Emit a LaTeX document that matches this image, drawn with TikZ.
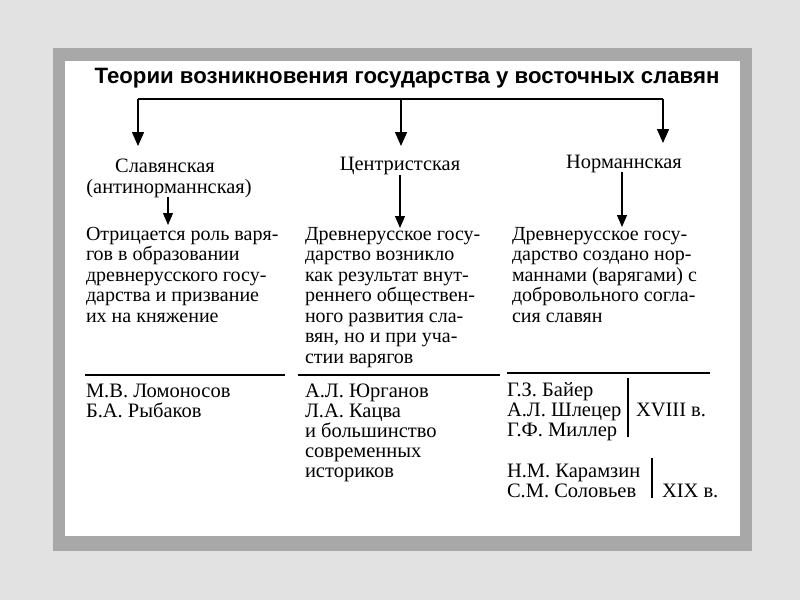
\documentclass[tikz,border=0pt]{standalone}
\usepackage{fontspec}
\setmainfont{Liberation Serif}
\newfontfamily\titlefont{Liberation Sans}
\usetikzlibrary{arrows.meta}
\definecolor{bgout}{RGB}{226,226,226}
\definecolor{frame}{RGB}{168,168,168}
\begin{document}
\begin{tikzpicture}[x=1pt,y=-1pt,
 every node/.style={inner sep=0pt,outer sep=0pt},
 titletxt/.style={font=\titlefont\bfseries\fontsize{22.2}{24}\selectfont, anchor=base},
 headtxt/.style={font=\fontsize{20.4}{20}\selectfont, anchor=base},
 desctxt/.style={font=\fontsize{20}{20.5}\selectfont, anchor=base west, align=left},
 nametxt/.style={font=\fontsize{20.5}{20}\selectfont, anchor=base west, align=left},
 arr/.style={-{Triangle[length=14pt,width=12pt]}, line width=1.4pt},
 smallarr/.style={-{Triangle[length=12pt,width=10pt]}, line width=1.2pt},
 rulebar/.style={line width=2.5pt},
 vbar/.style={line width=1.3pt}]
\useasboundingbox (0,0) rectangle (800,600);
\fill[bgout] (0,0) rectangle (800,600);
\fill[frame] (53,48) rectangle (752,551);
\fill[white] (65,61) rectangle (740,536);

\node[titletxt] (title) at (407,83) {Теории возникновения государства у восточных славян};

\coordinate (t1) at (138,99);
\coordinate (t2) at (401,99);
\coordinate (t3) at (663,99);
\coordinate (e1) at (138,146);
\coordinate (e2) at (401,146);
\coordinate (e3) at (663,143);
\draw[line width=2pt] (t1) -- (t3);
\draw[arr] (t1) -- (e1);
\draw[arr] (t2) -- (e2);
\draw[arr] (t3) -- (e3);

\node[headtxt] (h1) at (165,172) {Славянская};
\node[headtxt] (h1b) at (169,193) {(антинорманнская)};
\node[headtxt] (h2) at (400,170) {Центристская};
\node[headtxt] (h3) at (624,168) {Норманнская};

\coordinate (s1) at (168,197);
\coordinate (d1) at (168,225);
\coordinate (s2) at (400,175);
\coordinate (d2) at (400,228);
\coordinate (s3) at (622,172);
\coordinate (d3) at (622,227);
\draw[smallarr] (s1) -- (d1);
\draw[smallarr] (s2) -- (d2);
\draw[smallarr] (s3) -- (d3);

% base anchor of a multi-line node = baseline of its last line
\node[desctxt] (p1) at (86,322) {Отрицается роль варя-\\гов в образовании\\древнерусского госу-\\дарства и призвание\\их на княжение};
\node[desctxt] (p2) at (305,363) {Древнерусское госу-\\дарство возникло\\как результат внут-\\реннего обществен-\\ного развития сла-\\вян, но и при уча-\\стии варягов};
\node[desctxt] (p3) at (512,322) {Древнерусское госу-\\дарство создано нор-\\маннами (варягами) с\\добровольного согла-\\сия славян};

\coordinate (r1a) at (85,375);
\coordinate (r1b) at (285,375);
\coordinate (r2a) at (298,375);
\coordinate (r2b) at (500,375);
\coordinate (r3a) at (507,373);
\coordinate (r3b) at (710,373);
\draw[rulebar] (r1a) -- (r1b);
\draw[rulebar] (r2a) -- (r2b);
\draw[rulebar] (r3a) -- (r3b);

\node[nametxt] (n1) at (86,417) {М.В. Ломоносов\\Б.А. Рыбаков};
\node[nametxt] (n2) at (305,477) {А.Л. Юрганов\\Л.А. Кацва\\и большинство\\современных\\историков};
\node[nametxt] (n3) at (507,436) {Г.З. Байер\\А.Л. Шлецер\\Г.Ф. Миллер};
\node[nametxt] (n4) at (507,497) {Н.М. Карамзин\\С.М. Соловьев};
\node[nametxt] (c18) at (636,416) {XVIII в.};
\node[nametxt] (c19) at (662,497) {XIX в.};

\coordinate (b1a) at (628,378);
\coordinate (b1b) at (628,437);
\coordinate (b2a) at (652,458);
\coordinate (b2b) at (652,498);
\draw[vbar] (b1a) -- (b1b);
\draw[vbar] (b2a) -- (b2b);
\end{tikzpicture}
\end{document}
